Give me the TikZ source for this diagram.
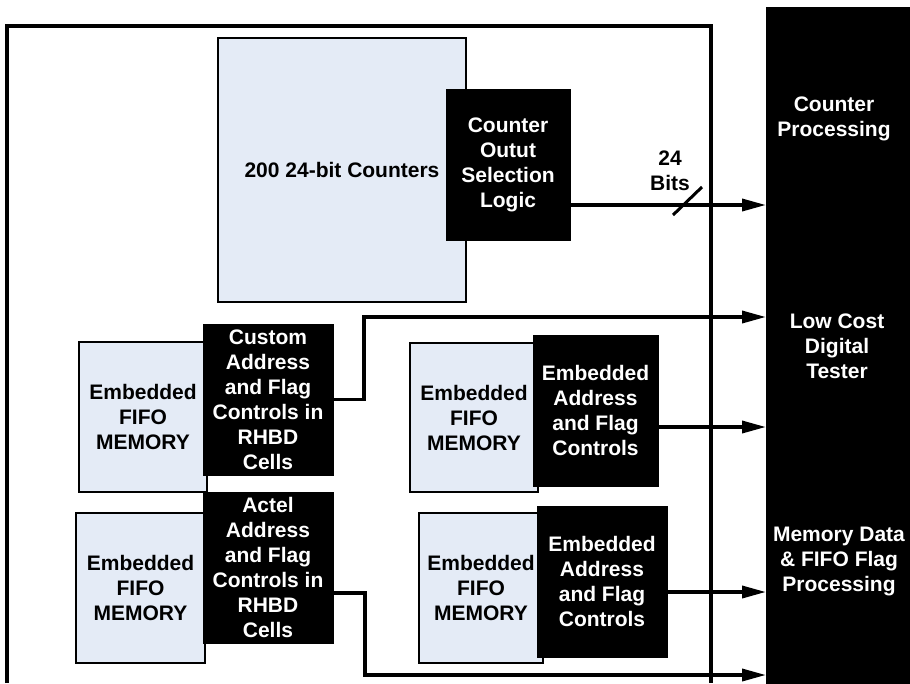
\documentclass[tikz,border=0pt]{standalone}
\usepackage{fontspec}
\setmainfont{Liberation Sans}
\usetikzlibrary{arrows.meta}
\definecolor{boxblue}{RGB}{228,235,246}
\begin{document}
\begin{tikzpicture}[x=1pt,y=-1pt,
  every node/.style={font=\fontsize{21}{25}\selectfont\bfseries, align=center, inner sep=0pt, outer sep=0pt},
  lightbox/.style={draw=black, line width=2pt, fill=boxblue, rectangle},
  darkbox/.style={draw=black, line width=1pt, fill=black, text=white, rectangle},
  conn/.style={line width=3.5pt, -{Triangle[length=24pt,width=12pt]}},
  frameline/.style={line width=4pt},
  slash/.style={line width=3pt},
]
\useasboundingbox (0,0) rectangle (910,683);
\fill[white] (0,0) rectangle (910,683);

% outer frame
\draw[frameline] (7,683) -- (7,26) -- (711,26) -- (711,683);

% tester
\node[darkbox, minimum width=144, minimum height=676] (tester) at (838,345) {};
\node[text=white] (tproc) at (834,119) {Counter\\Processing};
\node[text=white] (ttest) at (837,346) {Low Cost\\Digital\\Tester};
\node[text=white] (tmem) at (839,561) {Memory Data\\\& FIFO Flag\\Processing};

% counters
\node[lightbox, minimum width=248, minimum height=264] (counters) at (342,170) {200 24-bit Counters};
\node[darkbox, minimum width=124, minimum height=151] (sel) at (508,164.5) {Counter\\Outut\\Selection\\Logic};

% FIFO blocks
\node[lightbox, minimum width=128, minimum height=150] (fifo1) at (143,417) {Embedded\\FIFO\\MEMORY};
\node[darkbox, minimum width=130, minimum height=151] (custom) at (268,399.5) {Custom\\Address\\and Flag\\Controls in\\RHBD\\Cells};
\node[lightbox, minimum width=129, minimum height=150] (fifo2) at (140.5,588) {Embedded\\FIFO\\MEMORY};
\node[darkbox, minimum width=130, minimum height=151] (actel) at (268,567.5) {Actel\\Address\\and Flag\\Controls in\\RHBD\\Cells};
\node[lightbox, minimum width=128, minimum height=149] (fifo3) at (474,417.5) {Embedded\\FIFO\\MEMORY};
\node[darkbox, minimum width=125, minimum height=151] (ctl3) at (595.5,410.5) {Embedded\\Address\\and Flag\\Controls};
\node[lightbox, minimum width=124, minimum height=150] (fifo4) at (481,588) {Embedded\\FIFO\\MEMORY};
\node[darkbox, minimum width=130, minimum height=151] (ctl4) at (602,581.5) {Embedded\\Address\\and Flag\\Controls};

% connectors
\coordinate (a1) at ([yshift=-40.5pt]sel.east);
\draw[conn] (a1) -- (a1 -| tester.west);
\draw[slash] (673,215) -- (702,187);
\node (bits) at (670,170.5) {24\\Bits};

\coordinate (c1) at (364,317);
\draw[conn] (custom.east) -| (c1) -- (c1 -| tester.west);

\coordinate (a3) at ([yshift=-16.5pt]ctl3.east);
\draw[conn] (a3) -- (a3 -| tester.west);

\coordinate (a4) at ([yshift=-10.5pt]ctl4.east);
\draw[conn] (a4) -- (a4 -| tester.west);

\coordinate (a2) at ([yshift=-25.5pt]actel.east);
\coordinate (c2) at (365,675);
\draw[conn] (a2) -| (c2) -- (c2 -| tester.west);
\end{tikzpicture}
\end{document}
